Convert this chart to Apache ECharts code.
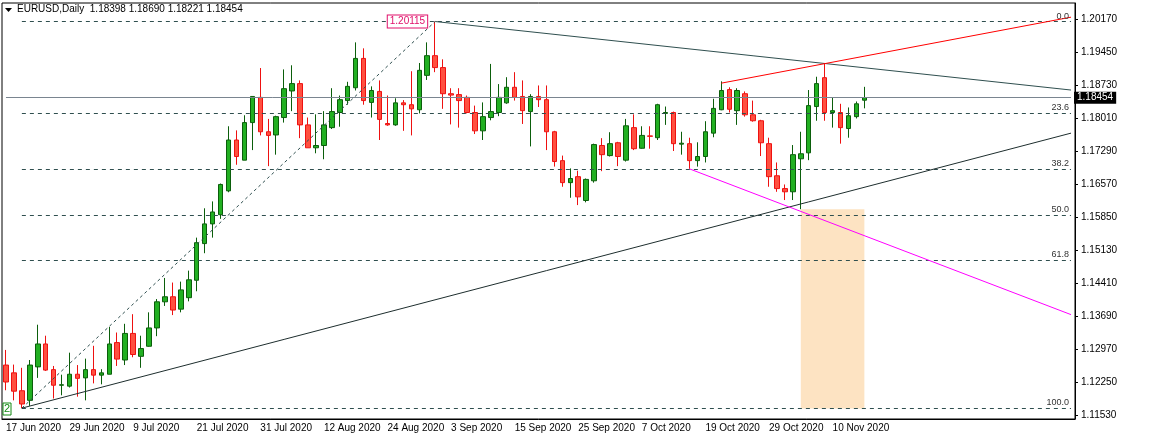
<!DOCTYPE html>
<html><head><meta charset="utf-8">
<script src="https://cdn.jsdelivr.net/npm/echarts@6/dist/echarts.min.js"></script>
<style>html,body{margin:0;padding:0;background:#fff}#c{width:1151px;height:440px}</style>
</head><body><div id="c"></div>
<script>
const startDate = '2020-06-17';
const totalSlots = 135;
const opens = [1.1262,1.1245,1.1206,1.1185,1.1258,1.1308,1.1252,1.1218,1.1216,1.1242,
1.1234,1.1252,1.1240,1.1242,1.1311,1.1273,1.1331,1.1281,1.1303,1.1343,
1.1400,1.1411,1.1384,1.1409,1.1447,1.1527,1.1570,1.1590,1.1642,1.1753,
1.1709,1.1791,1.1846,1.1771,1.1764,1.1802,1.1860,1.1876,1.1786,1.1736,
1.1741,1.1780,1.1813,1.1839,1.1867,1.1931,1.1835,1.1859,1.1789,1.1786,
1.1834,1.1830,1.1819,1.1894,1.1937,1.1911,1.1854,1.1852,1.1846,1.1813,
1.1773,1.1802,1.1813,1.1834,1.1868,1.1848,1.1815,1.1848,1.1841,1.1771,
1.1708,1.1660,1.1673,1.1621,1.1664,1.1741,1.1719,1.1747,1.1709,1.1780,
1.1735,1.1762,1.1758,1.1811,1.1813,1.1744,1.1745,1.1708,1.1717,1.1768,
1.1819,1.1863,1.1817,1.1854,1.1808,1.1795,1.1745,1.1675,1.1647,1.1640,
1.1712,1.1725,1.1826,1.1889,1.1813,1.1813,1.1778,1.1804,1.18398];
const closes = [1.1225,1.1205,1.1177,1.1262,1.1308,1.1251,1.1218,1.1219,1.1242,1.1233,
1.1252,1.1240,1.1245,1.1308,1.1275,1.1331,1.1285,1.1298,1.1343,1.1400,
1.1411,1.1382,1.1426,1.1448,1.1529,1.1570,1.1596,1.1656,1.1753,1.1717,
1.1791,1.1848,1.1771,1.1763,1.1804,1.1865,1.1876,1.1786,1.1736,1.1741,
1.1786,1.1815,1.1841,1.1870,1.1931,1.1839,1.1861,1.1798,1.1786,1.1834,
1.1830,1.1821,1.1905,1.1937,1.1911,1.1854,1.1851,1.1839,1.1813,1.1773,
1.1804,1.1815,1.1846,1.1868,1.1846,1.1817,1.1848,1.1841,1.1771,1.1706,
1.1660,1.1669,1.1629,1.1667,1.1743,1.1721,1.1745,1.1717,1.1784,1.1734,
1.1763,1.1761,1.1830,1.1813,1.1745,1.1746,1.1708,1.1717,1.1771,1.1822,
1.1861,1.1820,1.1861,1.1808,1.1795,1.1747,1.1673,1.1647,1.1640,1.1721,
1.1723,1.1828,1.1876,1.1813,1.1817,1.1780,1.1806,1.1832,1.18454];
const highs = [1.1295,1.1263,1.1256,1.1273,1.1350,1.1326,1.1260,1.1241,1.1289,1.1262,
1.1276,1.1304,1.1253,1.1345,1.1333,1.1352,1.1373,1.1326,1.1377,1.1406,
1.1452,1.1442,1.1444,1.1468,1.1540,1.1604,1.1619,1.1658,1.1783,1.1774,
1.1807,1.1848,1.1910,1.1799,1.1806,1.1907,1.1916,1.1883,1.1802,1.1809,
1.1816,1.1866,1.1850,1.1880,1.1966,1.1953,1.1870,1.1883,1.1850,1.1844,
1.1840,1.1903,1.1921,1.1966,1.20115,1.1929,1.1866,1.1866,1.1850,1.1828,
1.1835,1.1919,1.1875,1.1890,1.1901,1.1883,1.1853,1.1872,1.1872,1.1773,
1.1719,1.1691,1.1686,1.1669,1.1745,1.1757,1.1770,1.1749,1.1799,1.1809,
1.1783,1.1783,1.1832,1.1826,1.1815,1.1771,1.1758,1.1748,1.1794,1.1843,
1.1881,1.1868,1.1866,1.1859,1.1839,1.1797,1.1758,1.1704,1.1656,1.1742,
1.1771,1.1862,1.1891,1.1921,1.1846,1.1832,1.1824,1.1837,1.18690];
const lows = [1.1207,1.1185,1.1168,1.1173,1.1234,1.1249,1.1189,1.1196,1.1213,1.1193,
1.1185,1.1222,1.1220,1.1242,1.1260,1.1262,1.1279,1.1256,1.1302,1.1325,
1.1391,1.1371,1.1377,1.1401,1.1423,1.1506,1.1540,1.1581,1.1639,1.1699,
1.1709,1.1731,1.1763,1.1696,1.1721,1.1791,1.1816,1.1757,1.1736,1.1724,
1.1711,1.1777,1.1782,1.1830,1.1861,1.1830,1.1802,1.1753,1.1784,1.1784,
1.1773,1.1763,1.1811,1.1884,1.1901,1.1821,1.1787,1.1780,1.1811,1.1766,
1.1753,1.1796,1.1805,1.1832,1.1839,1.1788,1.1739,1.1825,1.1731,1.1695,
1.1651,1.1627,1.1611,1.1617,1.1660,1.1685,1.1717,1.1696,1.1706,1.1731,
1.1734,1.1734,1.1753,1.1786,1.1729,1.1721,1.1690,1.1695,1.1704,1.1759,
1.1818,1.1813,1.1786,1.1804,1.1793,1.1718,1.1651,1.1640,1.1622,1.1622,
1.1602,1.1709,1.1795,1.1795,1.1780,1.1745,1.1758,1.1800,1.18221];
const priceTicks = [1.20170,1.19450,1.18730,1.18010,1.17290,1.16570,1.15850,1.15130,1.14410,1.13690,1.12970,1.12250,1.11530];
const fibRatios = [0, 23.6, 38.2, 50, 61.8, 100];
const fibHigh = 1.20115, fibLow = 1.1168;
const lastPrice = 1.18454;
// trend lines: [startIndex, startPrice, endIndex, endPrice]
const dottedLine = [2, 1.1168, 54, 1.20115];
const upperLine = [54, 1.20115, 134, 1.1862];
const redLine = [90, 1.1877, 134, 1.2021];
const lowerLine = [2, 1.1168, 134, 1.1768];
const magentaLine = [86, 1.1690, 134, 1.1372];
const zone = [100, 1.1602, 108, 1.1167];

const mon = ['Jan','Feb','Mar','Apr','May','Jun','Jul','Aug','Sep','Oct','Nov','Dec'];
const cats = [];
let d = new Date(startDate + 'T00:00:00Z');
for (let i = 0; i < totalSlots; i++) {
  if (i < opens.length) {
    cats.push(d.getUTCDate() + ' ' + mon[d.getUTCMonth()] + ' ' + d.getUTCFullYear());
    do { d.setUTCDate(d.getUTCDate() + 1); } while (d.getUTCDay() === 0 || d.getUTCDay() === 6);
  } else cats.push('s' + i);
}
const data = opens.map((o, i) => [o, closes[i], lows[i], highs[i]]);
const seg = (l, color, type) => [{coord: [l[0], l[1]], lineStyle: {color: color, type: type || 'solid', width: 1}}, {coord: [l[2], l[3]]}];
const fibLines = fibRatios.map(r => {
  const v = fibHigh - r / 100 * (fibHigh - fibLow);
  return [{coord: [2, v], lineStyle: {color: '#2f4f4f', type: [4, 4], width: 1},
    label: {show: true, position: 'insideEndTop', formatter: r.toFixed(1), color: '#333', fontSize: 9, fontFamily: 'Liberation Sans', distance: [2, 1]}},
    {coord: [134, v]}];
});
const chart = echarts.init(document.getElementById('c'));
chart.setOption({
  animation: false,
  backgroundColor: '#fff',
  grid: {left: 2, right: 76, top: 3, bottom: 21, show: true, borderColor: '#000', borderWidth: 1},
  xAxis: {type: 'category', data: cats, boundaryGap: true,
    axisLine: {lineStyle: {color: '#000'}},
    axisTick: {interval: (i) => i % 8 === 0 && i < opens.length, length: 4, lineStyle: {color: '#000'}, alignWithLabel: true},
    axisLabel: {interval: (i) => i % 8 === 0 && i < opens.length, align: 'left', color: '#000', fontSize: 10, fontFamily: 'Liberation Sans', margin: 4,
      formatter: v => v.charAt(0) === 's' ? '' : v},
    splitLine: {show: false}},
  yAxis: {type: 'value', position: 'right', min: 1.11443, max: 1.20519, scale: true,
    axisLine: {show: true, lineStyle: {color: '#000'}},
    axisTick: {show: true, customValues: priceTicks, length: 3, lineStyle: {color: '#000'}},
    axisLabel: {customValues: priceTicks, formatter: v => v.toFixed(5), color: '#000', fontSize: 10, fontFamily: 'Liberation Sans', margin: 6},
    splitLine: {show: false}},
  series: [{
    type: 'candlestick', data: data, barWidth: 5,
    itemStyle: {color: '#22b022', color0: '#ff5040', borderColor: '#0b5e0b', borderColor0: '#ee1111', borderWidth: 1},
    markArea: {silent: true, itemStyle: {color: '#fde3c2'}, data: [[{coord: [zone[0], zone[1]]}, {coord: [zone[2], zone[3]]}]]},
    markLine: {silent: true, symbol: ['none', 'none'], animation: false,
      label: {show: false},
      data: fibLines.concat([
        seg(dottedLine, '#2f4f4f', [3, 3]),
        seg(upperLine, '#2f4f4f'),
        seg(redLine, '#ff0000'),
        seg(lowerLine, '#1e2e2e'),
        seg(magentaLine, '#ff00ff'),
        [{coord: [0, lastPrice], lineStyle: {color: '#7a8590', width: 1, type: 'solid'},
          label: {show: true, position: 'end', formatter: lastPrice.toFixed(5), backgroundColor: '#000', color: '#fff', fontSize: 10, fontFamily: 'Liberation Sans', padding: [1, 3], distance: 3}},
         {coord: [134, lastPrice]}]
      ])},
    markPoint: {silent: true, symbol: 'rect', symbolSize: 0, data: [
      {coord: [54, fibHigh], label: {show: true, position: 'left', distance: 8, formatter: fibHigh.toFixed(5), color: '#e0106a', borderColor: '#e0106a', borderWidth: 1, backgroundColor: '#fff', padding: [1, 2], fontSize: 10, fontFamily: 'Liberation Sans', offset: [0, 0]}}
    ]}
  }],
  graphic: [
    {type: 'polygon', shape: {points: [[5, 8], [12, 8], [8.5, 12]]}, style: {fill: '#000'}},
    {type: 'text', left: 17, top: 4, style: {text: 'EURUSD,Daily  1.18398 1.18690 1.18221 1.18454', fill: '#000', fontSize: 10, fontFamily: 'Liberation Sans'}},
    {type: 'rect', shape: {x: 3, y: 403, width: 8, height: 12}, style: {fill: '#fff', stroke: '#138a13', lineWidth: 1}},
    {type: 'text', left: 4, top: 403, style: {text: '2', fill: '#138a13', fontSize: 11, fontFamily: 'Liberation Sans'}}
  ]
});
</script></body></html>
